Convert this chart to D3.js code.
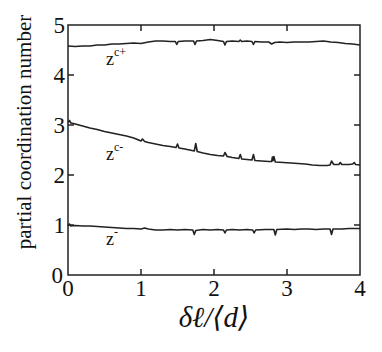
<!DOCTYPE html>
<html>
<head>
<meta charset="utf-8">
<script src="https://cdn.jsdelivr.net/npm/d3@7"></script>
<style>
  body { margin: 0; background: #fff; }
</style>
</head>
<body>
<div id="chart"></div>
<script>
// partial coordination numbers vs. delta l / <d>
var zcPlus = [[0,4.58],[0.1,4.57],[0.2,4.58],[0.3,4.58],[0.4,4.60],[0.5,4.60],[0.6,4.62],[0.7,4.62],[0.8,4.63],[0.9,4.64],[1.0,4.63],[1.1,4.66],[1.2,4.68],[1.3,4.68],[1.4,4.67],[1.47,4.67],[1.49,4.61],[1.51,4.67],[1.6,4.68],[1.72,4.68],[1.74,4.61],[1.76,4.68],[1.85,4.69],[1.95,4.71],[2.05,4.69],[2.13,4.67],[2.15,4.60],[2.17,4.67],[2.25,4.68],[2.34,4.67],[2.36,4.70],[2.38,4.67],[2.45,4.68],[2.52,4.67],[2.54,4.61],[2.56,4.67],[2.65,4.66],[2.75,4.66],[2.79,4.62],[2.83,4.65],[2.9,4.66],[3.0,4.65],[3.1,4.66],[3.2,4.66],[3.3,4.66],[3.4,4.67],[3.5,4.68],[3.6,4.66],[3.7,4.65],[3.8,4.63],[3.9,4.62],[4.0,4.60]];

var zcMinus = [[0,3.05],[0.02,3.09],[0.04,3.04],[0.1,3.02],[0.2,2.98],[0.3,2.94],[0.4,2.91],[0.5,2.87],[0.6,2.84],[0.7,2.81],[0.8,2.78],[0.9,2.74],[1.0,2.68],[1.02,2.72],[1.05,2.67],[1.1,2.65],[1.2,2.62],[1.3,2.59],[1.4,2.57],[1.48,2.55],[1.5,2.62],[1.52,2.54],[1.6,2.52],[1.7,2.49],[1.73,2.48],[1.75,2.63],[1.77,2.47],[1.85,2.44],[1.95,2.41],[2.05,2.39],[2.13,2.38],[2.15,2.45],[2.18,2.37],[2.25,2.35],[2.34,2.33],[2.36,2.41],[2.38,2.32],[2.45,2.31],[2.52,2.30],[2.54,2.41],[2.56,2.29],[2.65,2.28],[2.75,2.27],[2.79,2.27],[2.8,2.36],[2.81,2.29],[2.82,2.37],[2.84,2.26],[2.95,2.25],[3.05,2.24],[3.15,2.23],[3.25,2.22],[3.35,2.20],[3.45,2.19],[3.55,2.19],[3.59,2.20],[3.61,2.28],[3.64,2.21],[3.71,2.21],[3.73,2.25],[3.75,2.21],[3.85,2.21],[3.9,2.22],[3.92,2.25],[3.94,2.21],[4.0,2.20]];

var zMinus = [[0,0.98],[0.02,1.02],[0.04,0.98],[0.1,0.99],[0.2,0.98],[0.3,0.98],[0.4,0.97],[0.5,0.96],[0.6,0.95],[0.7,0.94],[0.8,0.93],[0.9,0.93],[1.0,0.92],[1.05,0.94],[1.1,0.92],[1.2,0.90],[1.3,0.90],[1.4,0.91],[1.5,0.90],[1.6,0.91],[1.71,0.90],[1.73,0.81],[1.75,0.89],[1.85,0.91],[1.95,0.90],[2.05,0.91],[2.13,0.90],[2.15,0.84],[2.17,0.90],[2.25,0.91],[2.35,0.90],[2.45,0.91],[2.53,0.90],[2.55,0.84],[2.57,0.90],[2.7,0.91],[2.82,0.91],[2.84,0.80],[2.86,0.91],[3.0,0.92],[3.1,0.91],[3.2,0.92],[3.3,0.92],[3.4,0.91],[3.5,0.92],[3.59,0.92],[3.61,0.81],[3.63,0.92],[3.75,0.92],[3.85,0.93],[4.0,0.93]];

var xTicks = [0, 1, 2, 3, 4];
var yTicks = [0, 1, 2, 3, 4, 5];

// curve labels: name, superscript, anchor point in data units
var curveLabels = [
  {base: "z", sup: "c+", x: 0.52, y: 4.2},
  {base: "z", sup: "c-", x: 0.52, y: 2.3},
  {base: "z", sup: "-",  x: 0.52, y: 0.6}
];

var serif = "'Liberation Serif', 'Times New Roman', 'DejaVu Serif', serif";

var margin = {top: 25, right: 22, bottom: 77, left: 68},
    width = 382 - margin.left - margin.right,
    height = 352 - margin.top - margin.bottom;

var x = d3.scaleLinear().domain([0, 4]).range([0, width]);
var y = d3.scaleLinear().domain([0, 5]).range([height, 0]);

var svg = d3.select("#chart").append("svg")
  .attr("width", 382)
  .attr("height", 352)
  .attr("font-family", serif);

var main = svg.append("g")
  .attr("transform", "translate(" + margin.left + "," + margin.top + ")");

// frame
main.append("rect")
  .attr("width", width).attr("height", height)
  .attr("fill", "none").attr("stroke", "#222").attr("stroke-width", 1.5);

// inward ticks on all four sides
var tickLen = 6;
main.selectAll(".xt-b").data(xTicks.slice(1, -1)).enter().append("line")
  .attr("x1", function(d) { return x(d); }).attr("x2", function(d) { return x(d); })
  .attr("y1", height).attr("y2", height - tickLen)
  .attr("stroke", "#222").attr("stroke-width", 1.5);
main.selectAll(".xt-t").data(xTicks.slice(1, -1)).enter().append("line")
  .attr("x1", function(d) { return x(d); }).attr("x2", function(d) { return x(d); })
  .attr("y1", 0).attr("y2", tickLen)
  .attr("stroke", "#222").attr("stroke-width", 1.5);
main.selectAll(".yt-l").data(yTicks.slice(1, -1)).enter().append("line")
  .attr("x1", 0).attr("x2", tickLen)
  .attr("y1", function(d) { return y(d); }).attr("y2", function(d) { return y(d); })
  .attr("stroke", "#222").attr("stroke-width", 1.5);
main.selectAll(".yt-r").data(yTicks.slice(1, -1)).enter().append("line")
  .attr("x1", width).attr("x2", width - tickLen)
  .attr("y1", function(d) { return y(d); }).attr("y2", function(d) { return y(d); })
  .attr("stroke", "#222").attr("stroke-width", 1.5);

// tick labels
main.selectAll(".xl").data(xTicks).enter().append("text")
  .attr("x", function(d) { return x(d); })
  .attr("y", height + 21)
  .attr("text-anchor", "middle")
  .attr("font-size", 23)
  .attr("fill", "#111")
  .text(function(d) { return d; });
main.selectAll(".yl").data(yTicks).enter().append("text")
  .attr("x", function(d) { return d === 0 ? -5 : -3; })
  .attr("y", function(d) { return y(d) + 8; })
  .attr("text-anchor", "end")
  .attr("font-size", 23)
  .attr("fill", "#111")
  .text(function(d) { return d; });

// curves
var line = d3.line()
  .x(function(d) { return x(d[0]); })
  .y(function(d) { return y(d[1]); });

[zcPlus, zcMinus, zMinus].forEach(function(s) {
  main.append("path")
    .attr("d", line(s))
    .attr("fill", "none")
    .attr("stroke", "#222")
    .attr("stroke-width", 1.6)
    .attr("stroke-linejoin", "round");
});

// curve labels
curveLabels.forEach(function(l) {
  var t = main.append("text")
    .attr("x", x(l.x)).attr("y", y(l.y))
    .attr("font-size", 18)
    .attr("fill", "#111");
  t.append("tspan").text(l.base);
  t.append("tspan").attr("dy", -9).attr("font-size", 12).text(l.sup);
});

// axis titles
svg.append("text")
  .attr("transform", "translate(31,132) rotate(-90)")
  .attr("text-anchor", "middle")
  .attr("font-size", 21)
  .attr("fill", "#111")
  .text("partial coordination number");

svg.append("text")
  .attr("x", 214).attr("y", 327)
  .attr("text-anchor", "middle")
  .attr("font-size", 29)
  .attr("font-style", "italic")
  .attr("fill", "#111")
  .text("δℓ/⟨d⟩");
</script>
</body>
</html>
